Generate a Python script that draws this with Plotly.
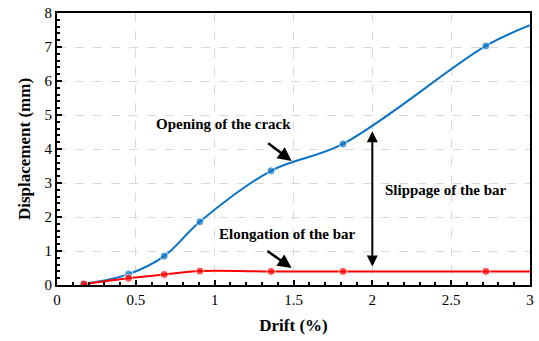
import plotly.graph_objects as go

# Drift levels (%) and measured displacements (mm)
drift = [0.17, 0.454, 0.68, 0.906, 1.358, 1.814, 2.72, 3.0]
crack_opening = [0.03, 0.32, 0.85, 1.86, 3.36, 4.15, 7.03, 7.64]
bar_elongation = [0.03, 0.20, 0.31, 0.41, 0.40, 0.40, 0.40, 0.40]
marker_sizes = [8, 8, 8, 8, 8, 8, 8, 0]

x_ticks = [0, 0.5, 1, 1.5, 2, 2.5, 3]
x_tick_text = ["0", "0.5", "1", "1.5", "2", "2.5", "3"]
y_ticks = [0, 1, 2, 3, 4, 5, 6, 7, 8]

BLUE = "#0A72C4"
RED = "#FF0000"
FONT = "'Liberation Serif', 'Times New Roman', 'DejaVu Serif', serif"

fig = go.Figure()
fig.add_trace(go.Scatter(
    x=drift, y=crack_opening, mode="lines+markers",
    line=dict(color=BLUE, width=2, shape="spline", smoothing=1.0),
    marker=dict(color=BLUE, size=marker_sizes),
    cliponaxis=True, showlegend=False,
))
fig.add_trace(go.Scatter(
    x=drift, y=bar_elongation, mode="lines+markers",
    line=dict(color=RED, width=2, shape="spline", smoothing=0.8),
    marker=dict(color=RED, size=marker_sizes),
    cliponaxis=True, showlegend=False,
))

label_font = dict(family=FONT, size=15, color="black")

# Text labels
fig.add_annotation(x=1.055, y=4.74, text="<b>Opening of the crack</b>",
                   showarrow=False, font=label_font)
fig.add_annotation(x=1.463, y=1.5, text="<b>Elongation of the bar</b>",
                   showarrow=False, font=label_font)
fig.add_annotation(x=2.07, y=2.79, text="<b>Slippage of the bar</b>",
                   showarrow=False, font=label_font, xanchor="left")

# Pointer arrows
arrow_style = dict(showarrow=True, arrowhead=2, arrowsize=1.1, arrowwidth=2.5,
                   arrowcolor="black", axref="x", ayref="y", text="")
fig.add_annotation(x=1.488, y=3.65, ax=1.33, ay=4.2, **arrow_style)
fig.add_annotation(x=1.488, y=0.5, ax=1.325, ay=1.03, **arrow_style)
# Double-headed arrow spanning the slippage
fig.add_annotation(x=2.0, y=4.52, ax=2.0, ay=0.5, showarrow=True,
                   arrowhead=2, startarrowhead=2, arrowside="end+start",
                   arrowsize=1.1, startarrowsize=1.1, arrowwidth=2,
                   arrowcolor="black", axref="x", ayref="y", text="")

axis_common = dict(
    showline=True, linecolor="black", linewidth=2, mirror=True,
    ticks="inside", ticklen=5, tickwidth=1.5, tickcolor="black",
    showgrid=True, gridcolor="#D9D9D9", gridwidth=1, griddash="dash",
    zeroline=False,
    tickfont=dict(family=FONT, size=15, color="black"),
)

fig.update_xaxes(
    range=[0, 3], tickvals=x_ticks, ticktext=x_tick_text,
    minor=dict(dtick=0.1, ticks="inside", ticklen=3, tickcolor="black", showgrid=False),
    title=dict(text="<b>Drift (%)</b>", font=dict(family=FONT, size=17, color="black"),
               standoff=12),
    **axis_common,
)
fig.update_yaxes(
    range=[0, 8], tickvals=y_ticks,
    minor=dict(dtick=0.2, ticks="inside", ticklen=3, tickcolor="black", showgrid=False),
    title=dict(text="<b>Displacement (mm)</b>", font=dict(family=FONT, size=17, color="black"),
               standoff=10),
    **axis_common,
)

fig.update_layout(
    width=539, height=341,
    margin=dict(l=57, r=5, t=13, b=56),
    plot_bgcolor="white", paper_bgcolor="white",
    font=dict(family=FONT),
)

fig.write_html("out.html")
